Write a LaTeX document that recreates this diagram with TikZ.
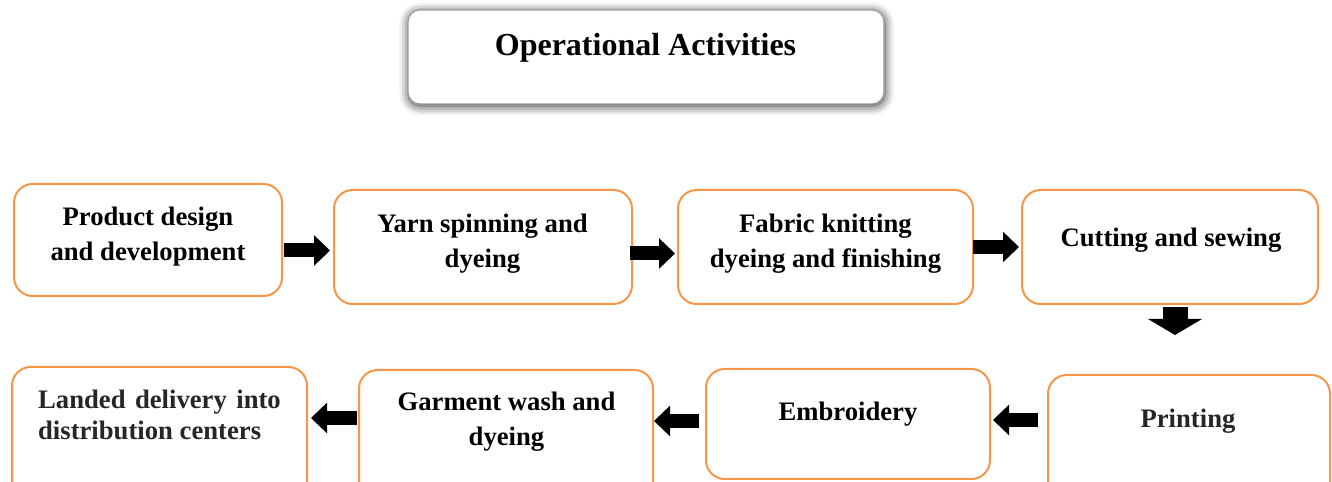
\documentclass[tikz,border=0pt]{standalone}
\usepackage{fontspec}
\setmainfont{Liberation Serif}
\usepackage{tikz}
\usetikzlibrary{arrows.meta,shapes.geometric,positioning,calc,shadows.blur}
\definecolor{boxorange}{HTML}{F79646}

\begin{document}
\begin{tikzpicture}[x=0.75pt, y=0.75pt,
  stepbox/.style={draw=boxorange, line width=1.5pt, rounded corners=14pt, fill=white},
  txt/.style={font=\bfseries\fontsize{20}{26}\selectfont, align=center, inner sep=0pt},
  flow/.style={line width=10.5pt, -{Triangle[length=12pt, width=23pt, line width=0pt]}},
  bigflow/.style={line width=18.75pt, -{Triangle[length=12pt, width=40.5pt, line width=0pt]}}]
\useasboundingbox (0,0) rectangle (1332,482);
% title
\node[draw=gray!80, line width=0.8pt, fill=white, rounded corners=9pt,
  minimum width=357pt, minimum height=70.5pt,
  blur shadow={shadow xshift=0.5pt, shadow yshift=-1.5pt, shadow blur radius=7pt, shadow opacity=85}]
  (title) at (646,425) {};
\node[txt, font=\bfseries\fontsize{24}{30}\selectfont] (ttl) at (645.5,434) {Operational Activities};
% first row
\node[stepbox, minimum width=201pt, minimum height=84pt] (b1) at (148,242) {};
\node[stepbox, minimum width=223.5pt, minimum height=85.5pt] (b2) at (483,235) {};
\node[stepbox, minimum width=221.25pt, minimum height=85.5pt] (b3) at (825.5,235) {};
\node[stepbox, minimum width=222pt, minimum height=85.5pt] (b4) at (1170,235) {};
% second row
\node[stepbox, anchor=north, minimum width=221.25pt, minimum height=105pt] (b5) at (159.5,116) {};
\node[stepbox, anchor=north, minimum width=220.5pt, minimum height=105pt] (b6) at (506,113) {};
\node[stepbox, minimum width=213pt, minimum height=82.5pt] (b7) at (848,58) {};
\node[stepbox, anchor=north, minimum width=211.5pt, minimum height=105pt] (b8) at (1189,108) {};
% texts
\node[txt] (t1) at (148,245.5) {Product design\\and development};
\node[txt] (t2) at (482.5,238.5) {Yarn spinning and\\dyeing};
\node[txt] (t3) at (825.5,238.5) {Fabric knitting\\dyeing and finishing};
\node[txt] (t4) at (1171,242) {Cutting and sewing};
\node[txt, align=left, text=black!85, font=\bfseries\fontsize{20}{23.25}\selectfont] (t5) at (159.5,67) {\makebox[182pt][s]{Landed delivery into}\\distribution centers};
\node[txt] (t6) at (506.5,60) {Garment wash and\\dyeing};
\node[txt] (t7) at (848,68) {Embroidery};
\node[txt, text=black!85] (t8) at (1188,61) {Printing};
% arrows
\draw[flow, shorten <=0.75pt, shorten >=2.25pt] (b1.east |- 0,231.5) -- (b2.west |- 0,231.5);
\draw[flow, shorten <=-2.25pt, shorten >=1.5pt] (b2.east |- 0,228.5) -- (b3.west |- 0,228.5);
\draw[flow, shorten <=-0.75pt, shorten >=1.5pt] (b3.east |- 0,235) -- (b4.west |- 0,235);
\draw[bigflow, shorten <=1.5pt, shorten >=29.25pt] (1175,0 |- b4.south) -- (1175,0 |- b8.north);
\draw[flow, shorten <=6.75pt, shorten >=1.5pt] (b8.west |- 0,62) -- (b7.east |- 0,62);
\draw[flow, shorten <=4.5pt] (b7.west |- 0,61) -- (b6.east |- 0,61);
\draw[flow, shorten <=0.75pt, shorten >=2.25pt] (b6.west |- 0,64) -- (b5.east |- 0,64);
\end{tikzpicture}
\end{document}
